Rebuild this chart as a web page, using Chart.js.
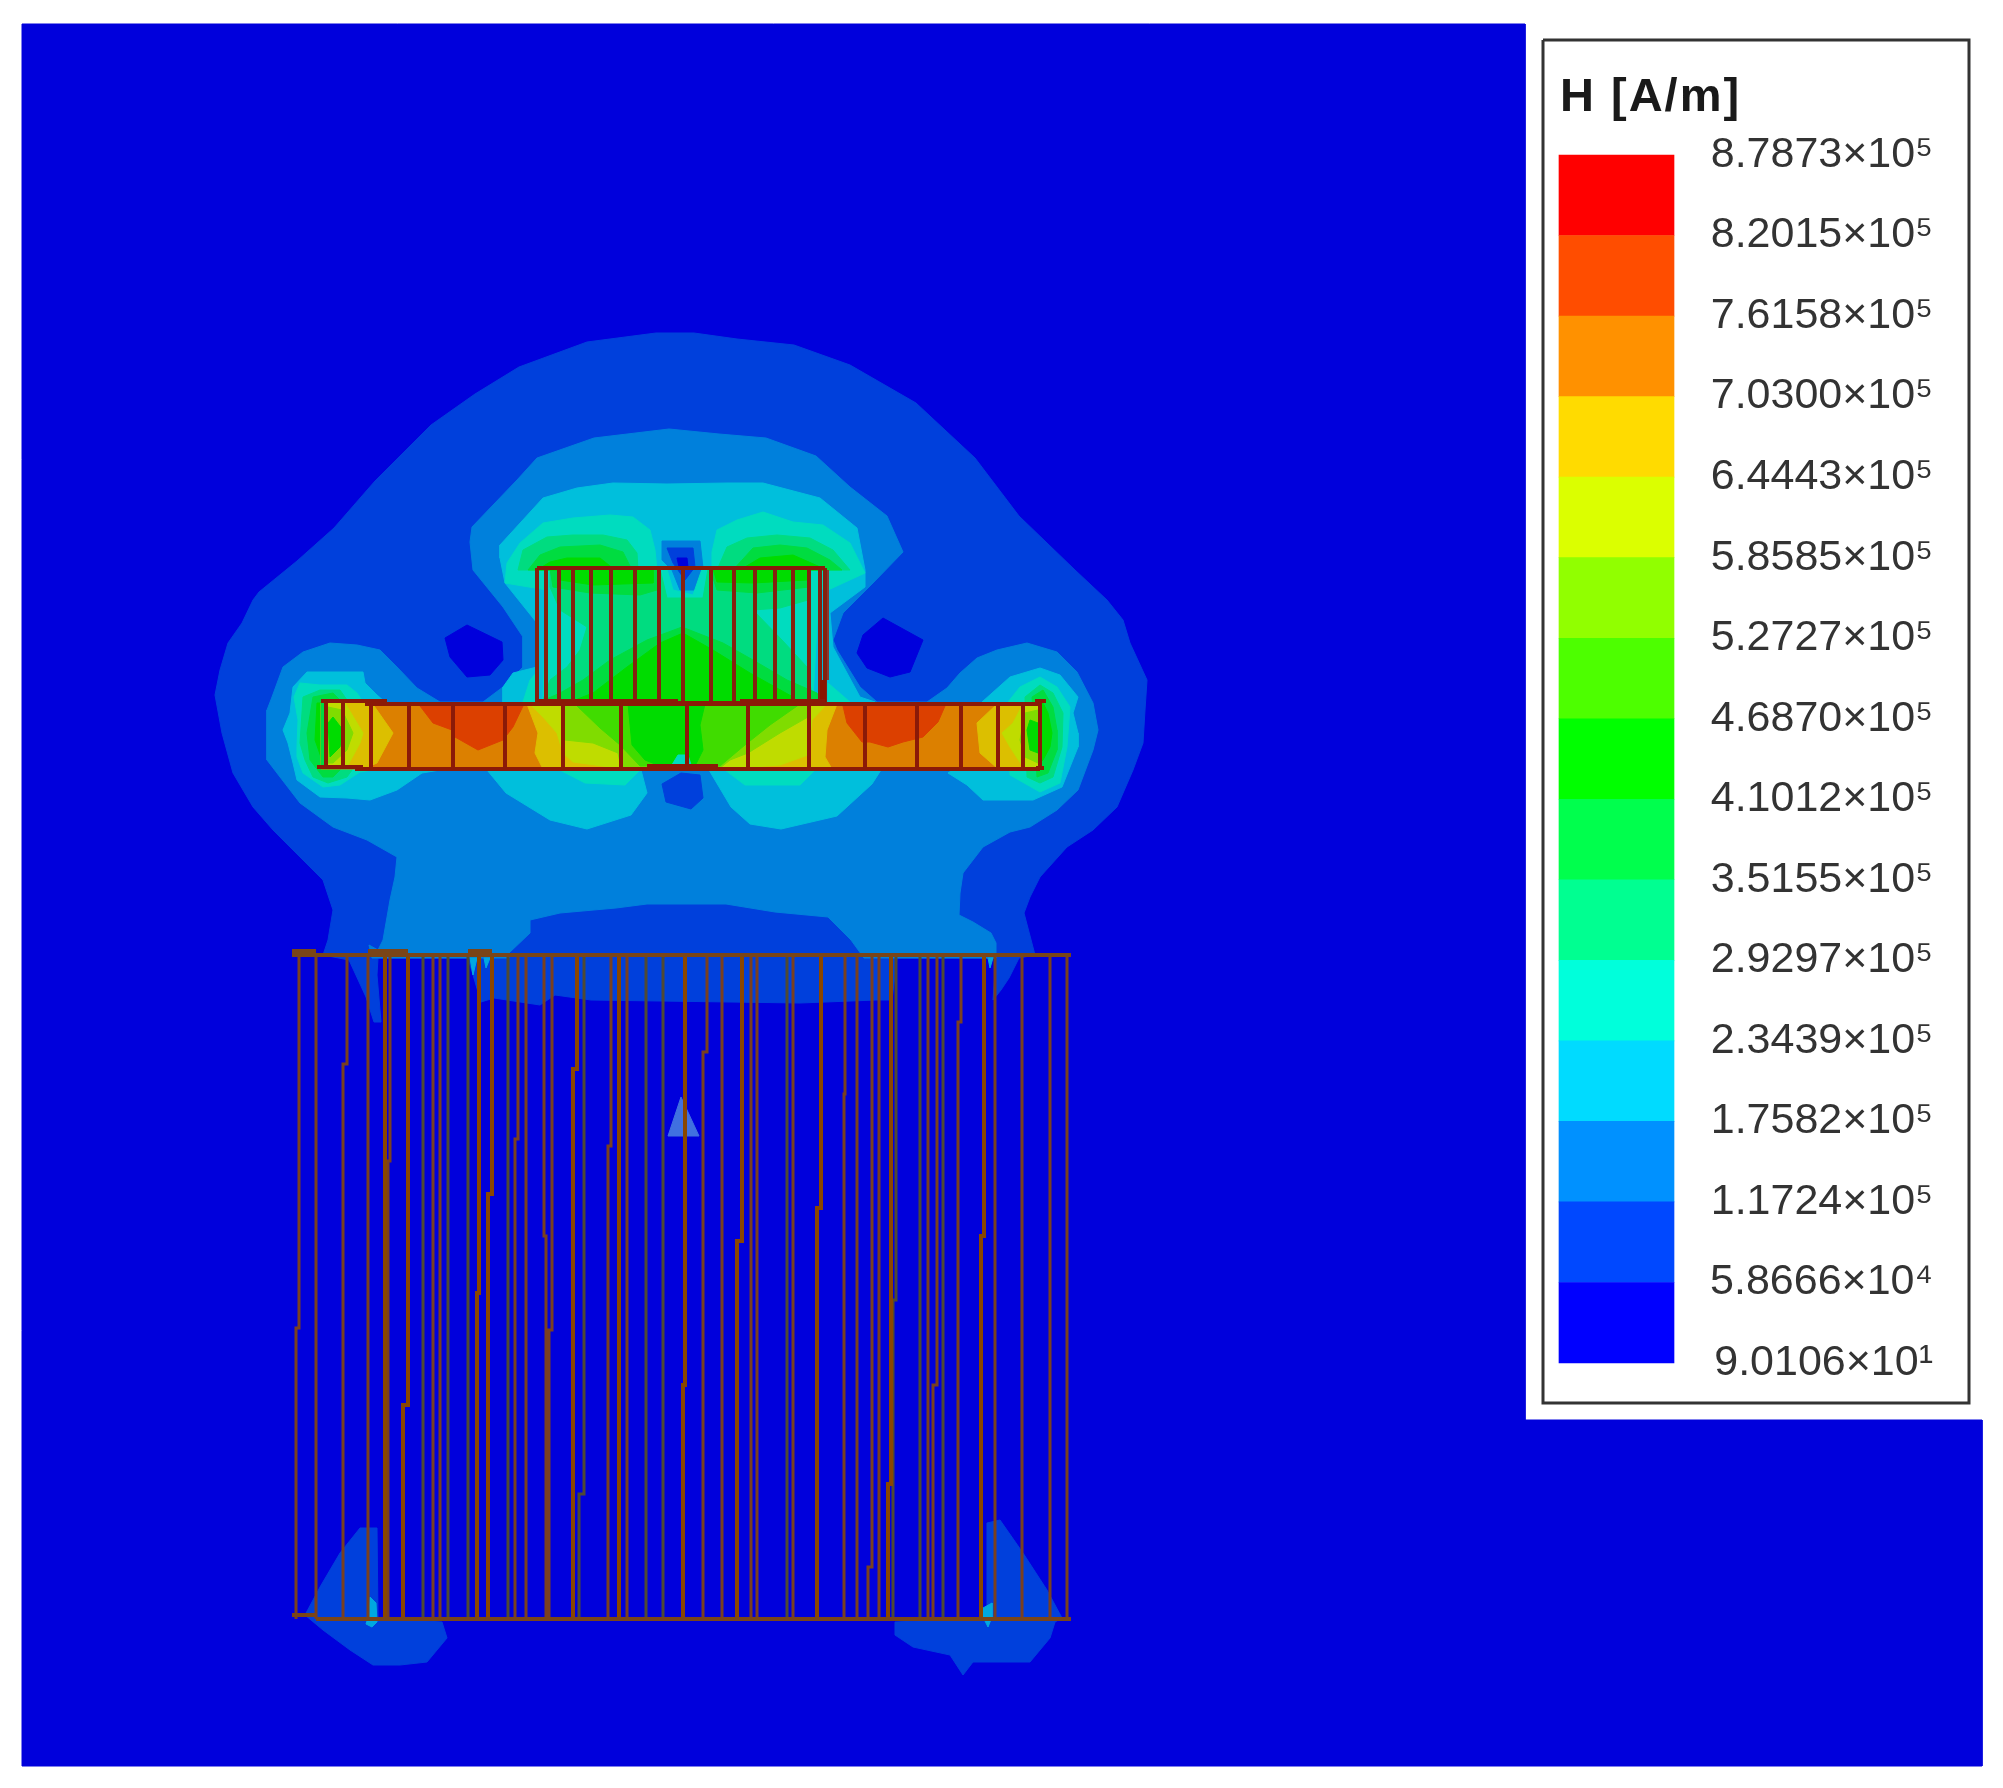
<!DOCTYPE html>
<html><head><meta charset="utf-8">
<style>html,body{margin:0;padding:0;background:#fff}canvas{display:block}</style>
<script src="https://cdn.jsdelivr.net/npm/chart.js@4"></script>
</head><body><canvas id="c" width="2003" height="1788"></canvas>
<script>
// Legend
const legendTitle = "H [A/m]";
const hLevels = [878730,820150,761580,703000,644430,585850,527270,468700,410120,351550,292970,234390,175820,117240,58666,90.106];
const hLabels = ["8.7873×10⁵","8.2015×10⁵","7.6158×10⁵","7.0300×10⁵","6.4443×10⁵","5.8585×10⁵","5.2727×10⁵","4.6870×10⁵","4.1012×10⁵","3.5155×10⁵","2.9297×10⁵","2.3439×10⁵","1.7582×10⁵","1.1724×10⁵","5.8666×10⁴","9.0106×10¹"];
const legendColors = ["#ff0000","#ff4d00","#ff9100","#ffdb00","#dbff00","#91ff00","#4dff00","#00ff00","#00ff4d","#00ff91","#00ffdb","#00dbff","#0091ff","#0048ff","#0000ff"];
// Field bands, lowest to highest
const F = ["#0000dc","#0040dc","#0080dc","#00bfdc","#00dcbf","#00dc80","#00dc40","#00dc00","#40dc00","#80dc00","#bfdc00","#dcbf00","#dc8000","#dc4000"];
const legendFrame = [[1543,40],[1969,40],[1969,1403],[1543,1403],[1543,40]];

// Contours (scene coordinates)
const domain = [[22,24],[1525,24],[1525,1420],[1982,1420],[1982,1766],[22,1766]];
const band1Outer = [[656,333],[587,342],[519,367],[475,394],[431,425],[375,481],[334,528],[297,561],[259,592],[253,600],[242,623],[228,643],[220,670],[215,695],[222,733],[233,773],[253,807],[273,830],[300,857],[323,880],[333,910],[328,940],[323,955],[349,960],[366,997],[374,1022],[381,1022],[377,975],[378,958],[468,958],[481,1002],[494,998],[540,1005],[555,995],[591,1000],[800,1003],[876,1000],[892,1000],[897,958],[996,958],[993,1000],[1001,990],[1009,978],[1019,958],[1035,955],[1024,913],[1030,897],[1040,877],[1067,847],[1093,830],[1117,807],[1133,770],[1143,743],[1145,710],[1147,680],[1130,643],[1123,620],[1107,600],[1075,570],[1019,516],[975,458],[916,403],[850,365],[794,345],[737,339],[694,333]];
const band2Main = [[669,429],[594,438],[537,458],[517,480],[472,527],[470,542],[473,570],[503,607],[523,637],[523,667],[503,687],[483,702],[440,702],[417,688],[397,667],[380,650],[357,645],[330,643],[303,652],[283,667],[272,697],[267,710],[267,760],[280,777],[300,803],[333,827],[367,840],[397,857],[395,877],[390,900],[383,940],[378,950],[369,945],[372,958],[509,958],[509,953],[530,933],[530,920],[560,913],[616,908],[647,904],[726,904],[775,912],[828,917],[851,940],[864,958],[996,958],[996,943],[991,933],[973,922],[959,915],[960,893],[963,873],[983,847],[1010,832],[1030,827],[1057,810],[1078,790],[1093,750],[1098,730],[1093,703],[1077,672],[1057,652],[1027,643],[997,650],[977,658],[960,673],[947,688],[927,702],[877,702],[860,687],[837,650],[833,640],[843,613],[873,583],[903,552],[887,516],[850,487],[816,456],[766,438],[719,434]];
const holeLeft = [[445,638],[467,625],[502,642],[503,660],[490,675],[467,677],[450,657]];
const holeRight = [[883,618],[923,640],[910,672],[890,677],[867,668],[857,653],[863,635]];
const band3Upper = [[500,545],[500,558],[505,583],[537,623],[537,667],[513,673],[503,687],[503,702],[875,702],[860,697],[833,647],[830,613],[865,587],[865,570],[857,528],[820,498],[763,483],[727,483],[667,484],[613,483],[577,488],[543,498]];
const notch2 = [[662,541],[700,541],[703,568],[695,590],[680,590],[672,570],[662,560]];
const notch1 = [[667,548],[693,548],[695,567],[685,580],[673,563]];
const notch0 = [[677,558],[687,558],[688,567],[683,572],[679,567]];
const band4UpL = [[505,583],[507,563],[520,543],[543,523],[573,518],[610,515],[633,517],[650,530],[655,550],[657,570],[547,590]];
const band5UpL = [[518,570],[523,550],[547,537],[573,535],[603,535],[627,540],[637,553],[638,570]];
const band6UpL = [[528,570],[540,555],[560,547],[600,545],[623,552],[632,570]];
const band7UpL = [[537,570],[550,562],[567,558],[600,558],[615,570]];
const band4UpR = [[712,570],[712,552],[717,530],[737,520],[763,512],[793,522],[823,525],[850,543],[860,563],[865,573],[828,590]];
const band5UpR = [[717,570],[727,547],[747,538],[777,535],[810,538],[833,550],[850,570]];
const band6UpR = [[733,570],[753,548],[780,545],[807,548],[830,560],[842,570]];
const band7UpR = [[740,570],[760,558],[793,555],[827,570]];
const band4Rect = [[547,569],[667,569],[673,590],[693,595],[702,569],[820,569],[813,700],[543,700]];
const band5Rect = [[550,569],[660,569],[667,598],[703,598],[708,569],[810,569],[808,600],[780,608],[753,610],[782,640],[807,667],[813,700],[543,700],[550,680],[567,667],[580,650],[587,627],[560,610],[550,587]];
const band6RectL = [[550,569],[657,569],[657,590],[640,595],[590,593],[553,587]];
const band6RectR = [[710,569],[809,569],[809,587],[757,593],[717,590]];
const band6RectLow = [[540,702],[560,693],[583,680],[610,660],[647,640],[682,627],[723,643],[753,660],[787,680],[817,693],[820,702]];
const band7RectL = [[560,569],[653,569],[653,583],[593,585],[560,580]];
const band7RectR = [[713,569],[807,569],[807,580],[753,583],[717,582]];
const band7RectLow = [[570,702],[593,693],[627,667],[660,643],[683,633],[713,650],[750,673],[793,697],[797,702]];
const band4FootL = [[523,702],[530,680],[537,672],[537,702]];
const band4FootR = [[828,683],[850,702],[828,702]];
// Left lobe
const lobeL3 = [[307,672],[363,672],[365,683],[377,695],[385,702],[440,770],[422,773],[397,790],[370,800],[347,798],[320,797],[297,780],[293,763],[288,743],[283,730],[290,713],[293,687]];
const lobeL4 = [[300,683],[320,685],[347,685],[357,693],[363,702],[372,770],[360,772],[340,785],[323,787],[303,773],[297,757],[297,747],[298,720],[294,697]];
const lobeL5 = [[303,697],[320,690],[340,690],[347,700],[352,770],[347,777],[328,783],[313,777],[305,760],[300,743]];
const lobeL6 = [[313,697],[333,693],[340,700],[340,770],[333,777],[323,777],[310,760],[307,733]];
const lobeL7 = [[317,703],[332,703],[332,765],[323,763],[315,740]];
// Right lobe
const lobeR3 = [[982,702],[1010,677],[1040,668],[1060,675],[1078,697],[1073,713],[1078,733],[1078,747],[1062,787],[1033,800],[983,800],[967,785],[948,773],[960,765]];
const lobeR4 = [[1008,702],[1020,687],[1040,677],[1057,687],[1070,707],[1067,747],[1060,783],[1040,792],[1010,775]];
const lobeR5 = [[1025,697],[1040,685],[1053,693],[1063,713],[1062,747],[1053,777],[1040,783],[1027,777]];
const lobeR6 = [[1032,697],[1043,690],[1053,707],[1057,730],[1057,750],[1048,773],[1037,777]];
const lobeR7 = [[1040,703],[1043,703],[1048,713],[1052,733],[1050,747],[1043,760],[1040,762]];
// Lower lobes under the plate
const underL3 = [[487,770],[506,793],[550,820],[587,829],[631,815],[647,793],[641,770]];
const underR3 = [[709,770],[731,807],[750,824],[781,829],[837,816],[872,784],[881,770]];
const underL4 = [[560,770],[585,783],[625,785],[640,770]];
const underR4 = [[725,770],[745,785],[800,785],[815,770]];
const underHole = [[662,784],[666,802],[691,809],[703,798],[700,775],[681,773]];
// Plate
const plateBase = [[321,703],[1040,703],[1040,769],[321,769]];
const plateEndL11 = [[321,703],[372,703],[393,733],[377,763],[363,769],[321,767]];
const plateEndL10 = [[327,703],[345,703],[363,733],[360,743],[347,767],[327,765]];
const plateEndL9 = [[328,707],[342,710],[353,733],[347,750],[333,763],[328,763]];
const plateEndL7 = [[328,723],[333,717],[343,730],[340,747],[330,757]];
const plateEndL6 = [[321,703],[327,703],[327,767],[321,767]];
const plateHotL = [[420,706],[523,706],[513,727],[503,740],[478,750],[455,737],[452,730],[433,723]];
const plateHotR = [[843,706],[945,706],[938,722],[923,737],[903,742],[888,747],[870,742],[862,742],[847,723]];
const plateMid11 = [[527,704],[538,733],[535,753],[543,769],[832,769],[825,757],[827,730],[837,704]];
const plateMid10 = [[530,704],[543,717],[557,733],[563,753],[573,762],[610,767],[647,768],[720,768],[752,767],[780,765],[808,755],[812,720],[827,704]];
const plateMid9 = [[565,704],[565,740],[593,743],[618,753],[621,767],[647,768],[720,768],[730,760],[748,753],[780,733],[808,717],[808,704]];
const plateMid8 = [[575,704],[600,728],[620,745],[640,766],[720,766],[745,745],[770,725],[800,704]];
const plateMid7 = [[628,704],[632,745],[645,760],[660,766],[695,766],[703,750],[700,725],[705,704]];
const plateMidSpot = [[670,768],[678,755],[688,755],[692,768]];
const plateEndR11 = [[997,704],[977,723],[980,753],[997,768],[1040,768],[1040,703]];
const plateEndR10 = [[1023,704],[1013,723],[1002,733],[1010,747],[1023,767],[1040,767],[1040,703]];
const plateEndR9 = [[1025,713],[1038,710],[1038,763],[1025,757],[1020,740]];
const plateEndR7 = [[1027,730],[1030,720],[1038,723],[1038,753],[1030,750]];
// Bottom blobs and spots
const blobLeft = [[360,1528],[340,1553],[320,1587],[305,1615],[323,1630],[350,1650],[373,1665],[400,1665],[427,1662],[447,1638],[442,1622],[378,1618],[377,1528]];
const blobRight = [[1000,1520],[1023,1553],[1047,1590],[1062,1618],[1055,1622],[1050,1638],[1030,1662],[973,1662],[963,1675],[950,1655],[913,1647],[895,1635],[895,1622],[987,1618],[987,1523]];
const spotLeft = [[370,1597],[376,1603],[377,1622],[372,1627],[366,1624],[369,1615]];
const spotRight = [[983,1608],[992,1603],[992,1617],[988,1627],[983,1617]];
const spotTop1 = [[470,958],[477,958],[473,975]];
const spotTop2 = [[484,958],[490,958],[486,968]];
const spotTop3 = [[988,958],[993,958],[990,968]];
const triangleMark = [[681,1097],[699,1136],[668,1136]];
const triangleColor = "#4070e0";

// Wire frame: plate, upper coil, lower block
const rectTop = 568, rectBottom = 703;
const rectLinesX = [537,546,559,573,591,611,635,659,683,711,734,755,775,793,809,820,825];
const plateLinesX = [371,409,453,505,563,621,687,748,809,865,917,961,998,1023];
const plateStubLinesX = [326,343,1040];
const plateHoriz = [[321,701,387],[317,767,363],[365,704,1040],[355,769,1040],[647,766,718],[1035,701,1046],[1036,768,1044],[537,703,825],[537,568,825],[537,701,678],[740,701,825]];
const blockTop = 955, blockBottom = 1619;
const blockEdges = [[292,955,1071],[292,951,316],[368,951,408],[468,951,492],[292,1615,316],[316,1619,1071]];
// [x at top, y of jog, x at bottom]
const blockThin = [[299,1328,296],[316,1328,316],[347,1064,343],[368,1300,368],[390,1161,388],[433,1300,433],[440,1300,440],[526,1300,526],[627,1300,627],[722,1300,722],[757,1300,757],[793,1300,793],[845,1094,844],[872,1567,868],[928,1300,928],[937,1385,933],[961,1022,958],[995,1300,995],[1022,1300,1022],[1050,1300,1050],[1067,1300,1067],[518,1139,515],[552,1330,549],[544,1236,546],[611,1146,608],[707,1052,703],[751,1300,751],[857,1300,857],[879,1067,879]];
const blockThick = [[385,1300,385],[408,1405,403],[479,1293,477],[492,1194,488],[577,1069,573],[619,1300,619],[685,1385,683],[742,1241,737],[821,1208,817],[984,1236,981],[891,1484,888]];
const blockDark = [[423,1300,423],[448,1300,448],[468,1300,468],[508,1300,508],[584,1494,579],[646,1300,646],[663,1300,663],[787,1300,787],[920,1300,920],[943,1300,943],[896,1300,893]];

const layers = [
 [domain,F[0]],[band1Outer,F[1]],[blobLeft,F[1]],[blobRight,F[1]],[band2Main,F[2]],
 [holeLeft,F[0]],[holeRight,F[0]],
 [band3Upper,F[3]],[lobeL3,F[3]],[lobeR3,F[3]],[underL3,F[3]],[underR3,F[3]],
 [notch2,F[2]],[notch1,F[1]],[notch0,F[0]],
 [band4UpL,F[4]],[band4UpR,F[4]],[band4Rect,F[4]],[band4FootL,F[4]],[band4FootR,F[4]],[lobeL4,F[4]],[lobeR4,F[4]],[underL4,F[4]],[underR4,F[4]],
 [band5UpL,F[5]],[band5UpR,F[5]],[band5Rect,F[5]],[lobeL5,F[5]],[lobeR5,F[5]],
 [band6UpL,F[6]],[band6UpR,F[6]],[band6RectL,F[6]],[band6RectR,F[6]],[band6RectLow,F[6]],[lobeL6,F[6]],[lobeR6,F[6]],
 [band7UpL,F[7]],[band7UpR,F[7]],[band7RectL,F[7]],[band7RectR,F[7]],[band7RectLow,F[7]],[lobeL7,F[7]],[lobeR7,F[7]],
 [underHole,F[1]],
 [plateBase,F[12]],[plateHotL,F[13]],[plateHotR,F[13]],
 [plateEndL11,F[11]],[plateEndL10,F[10]],[plateEndL9,F[9]],[plateEndL7,F[7]],[plateEndL6,F[6]],
 [plateMid11,F[11]],[plateMid10,F[10]],[plateMid9,F[9]],[plateMid8,F[8]],[plateMid7,F[7]],[plateMidSpot,F[4]],
 [plateEndR11,F[11]],[plateEndR10,F[10]],[plateEndR9,F[9]],[plateEndR7,F[7]],
 [spotLeft,"#00a8e0"],[spotRight,"#00a8e0"],[spotTop1,"#00a8e0"],[spotTop2,"#00a8e0"],[spotTop3,"#00a8e0"],[triangleMark,triangleColor]
];

const W = 2003, H = 1788;
const barTop = 155, barBottom = 1363;
const perPx = (hLevels[0]-hLevels[hLevels.length-1])/(barBottom-barTop);
const hMax = hLevels[0]+barTop*perPx, hMin = hLevels[hLevels.length-1]-(H-barBottom)*perPx;

function verticals(xs,y0,y1){const o=[];xs.forEach(x=>{o.push([x,y0],[x,y1],[x,null]);});return o;}
function horizontals(rows){const o=[];rows.forEach(r=>{o.push([r[0],r[1]],[r[2],r[1]],[r[2],null]);});return o;}
function jogs(rows,y0,y1){const o=[];rows.forEach(r=>{o.push([r[0],y0],[r[0],r[1]],[r[2],r[1]],[r[2],y1],[r[2],null]);});return o;}

const datasets = [];
let ord = 1000;
layers.forEach(l=>{datasets.push({type:'scatter',data:l[0].concat([l[0][0]]),showLine:true,fill:'shape',backgroundColor:l[1],borderColor:l[1],borderWidth:1,pointRadius:0,order:ord--,tension:0,clip:false});});
function wire(data,color,width){datasets.push({type:'scatter',data:data,showLine:true,fill:false,borderColor:color,borderWidth:width,pointRadius:0,order:ord--,tension:0,spanGaps:false,borderCapStyle:'butt',clip:false});}
wire(jogs(blockDark,blockTop,blockBottom),"#4f4a34",3);
wire(jogs(blockThin,blockTop,blockBottom),"#7a4020",3);
wire(jogs(blockThick,blockTop,blockBottom),"#8a4600",4);
wire(horizontals(blockEdges),"#7a4518",4);
wire(verticals(rectLinesX,rectTop,rectBottom),"#85210f",4);
wire(verticals([828],570,680),"#8a3a30",2);
wire(verticals([823],680,702),"#8b1500",6);
wire(verticals(plateLinesX,703,769),"#8b1a08",4);
wire(verticals(plateStubLinesX,701,768),"#8b1a08",4);
wire(horizontals(plateHoriz),"#8b1a08",4);
wire(legendFrame,"#333333",3);
datasets.push({type:'bar',xAxisID:'x',yAxisID:'H',order:ord--,barThickness:115,grouped:false,
  data:legendColors.map((c,i)=>({x:1616.5,y:[hLevels[i+1],hLevels[i]]})),
  backgroundColor:legendColors,borderWidth:0});

const titlePlugin = {id:'legendTitle',afterDraw(chart){const c=chart.ctx;c.save();c.font='bold 47px "Liberation Sans"';c.letterSpacing='2px';c.fillStyle='#1a1a1a';c.textAlign='left';c.textBaseline='alphabetic';c.fillText(legendTitle,1560,111);c.restore();}};

new Chart(document.getElementById('c'),{
  data:{datasets},
  plugins:[titlePlugin],
  options:{
    responsive:false,animation:false,devicePixelRatio:1,
    layout:{padding:0},
    plugins:{legend:{display:false},tooltip:{enabled:false},title:{display:false}},
    scales:{
      x:{type:'linear',min:0,max:W,display:false,offset:false},
      y:{type:'linear',min:0,max:H,reverse:true,display:false},
      H:{type:'linear',axis:'y',position:{x:1933},min:hMin,max:hMax,
         grid:{display:false,drawTicks:false},border:{display:false},
         afterFit(a){a.paddingTop=0;a.paddingBottom=0;a.paddingLeft=0;a.paddingRight=0;},
         afterBuildTicks(a){a.ticks=hLevels.map(v=>({value:v}));},
         ticks:{autoSkip:false,padding:0,color:'#333',font:{family:'"Liberation Sans"',size:43},callback:(v,i)=>hLabels[i]}}
    }
  }
});
</script></body></html>
